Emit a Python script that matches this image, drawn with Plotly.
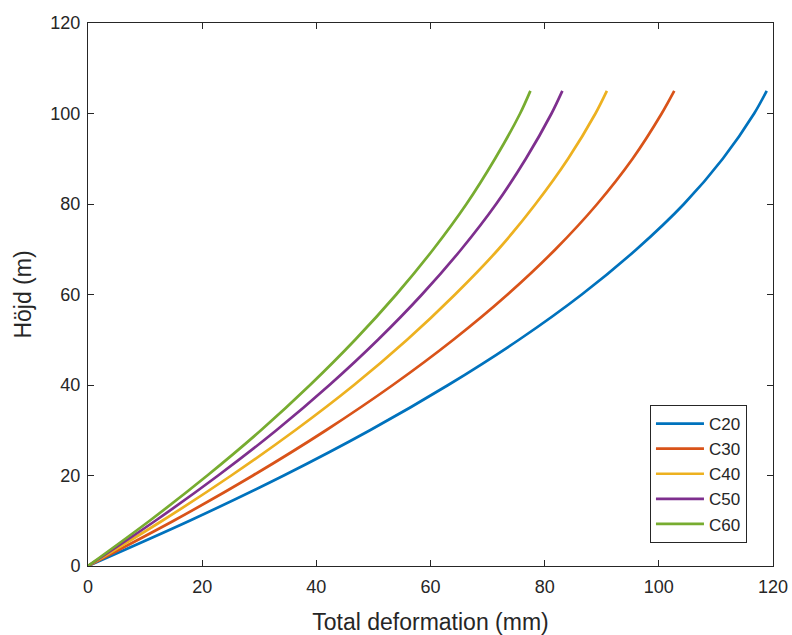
import plotly.graph_objects as go

# Heights (m)
hojd = [0, 10, 20, 30, 40, 50, 60, 70, 80, 90, 100, 105]

# Total deformation (mm) per concrete class, read at each height
c20 = [0, 17.8, 34.3, 49.4, 63.1, 75.5, 86.5, 96.1, 104.4, 111.2, 116.7, 118.9]
c30 = [0, 15.0, 28.9, 41.7, 53.4, 64.0, 73.5, 81.9, 89.2, 95.4, 100.5, 102.7]
c40 = [0, 13.0, 25.1, 36.3, 46.6, 55.9, 64.3, 71.9, 78.4, 84.1, 88.9, 90.9]
c50 = [0, 11.8, 22.8, 33.0, 42.3, 50.8, 58.5, 65.4, 71.5, 76.7, 81.2, 83.1]
c60 = [0, 10.8, 20.9, 30.3, 38.9, 46.8, 54.0, 60.5, 66.3, 71.3, 75.7, 77.5]

names = ["C20", "C30", "C40", "C50", "C60"]
series = [c20, c30, c40, c50, c60]
colors = ["#0072BD", "#D95319", "#EDB120", "#7E2F8E", "#77AC30"]

tick_vals = [0, 20, 40, 60, 80, 100, 120]

FONT = "Liberation Sans, Arial"
TXT = "#262626"

fig = go.Figure()
for name, xs, col in zip(names, series, colors):
    fig.add_trace(go.Scatter(
        x=xs, y=hojd, mode="lines", name=name, legendgroup=name,
        line=dict(color=col, width=2.7, shape="spline", smoothing=0.8),
    ))

axis_common = dict(
    range=[0, 120], tickvals=tick_vals, ticks="inside", ticklen=6,
    tickcolor=TXT, tickwidth=1, showline=True, linecolor=TXT,
    linewidth=1, mirror="ticks", showgrid=False, zeroline=False,
    automargin=False,
    tickfont=dict(size=18, color=TXT, family=FONT),
)

fig.update_xaxes(**axis_common, ticklabelstandoff=4,
                 title=dict(text="Total deformation (mm)", standoff=18,
                            font=dict(size=23, color=TXT, family=FONT)))
fig.update_yaxes(**axis_common, ticklabelstandoff=3,
                 title=dict(text="Höjd (m)", standoff=12,
                            font=dict(size=23, color=TXT, family=FONT)))

fig.update_layout(
    width=792, height=635,
    margin=dict(l=88, r=19, t=23, b=69),
    plot_bgcolor="white", paper_bgcolor="white",
    legend=dict(
        x=0.962, y=0.0424, xanchor="right", yanchor="bottom",
        bordercolor=TXT, borderwidth=1, bgcolor="white",
        font=dict(size=17, color=TXT, family=FONT),
        tracegroupgap=0, itemwidth=48,
    ),
)

fig.write_html("out.html")
